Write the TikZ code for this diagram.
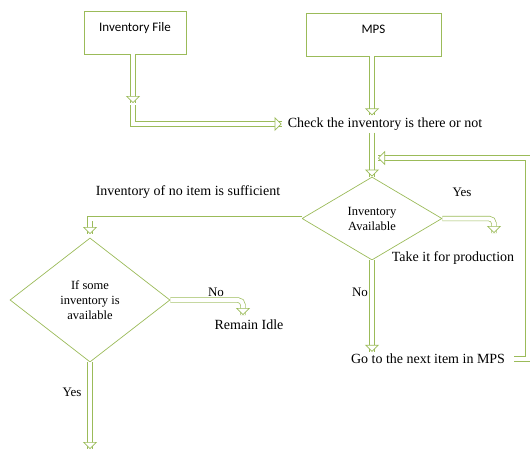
\documentclass[tikz,border=0pt]{standalone}
\usepackage{fontspec}
\setmainfont{Liberation Serif}
\newfontfamily\pBoxFont{Carlito}
\usetikzlibrary{arrows.meta,shapes.geometric,decorations.markings}
\definecolor{pFlowGreen}{RGB}{155,187,89}

\begin{document}
\begin{tikzpicture}[x=1pt,y=-1pt,
  flowbox/.style={draw=pFlowGreen, line width=0.7pt, minimum width=102pt, minimum height=43pt, text height=8.5pt, text depth=10.5pt, font={\pBoxFont\fontsize{13}{15}\selectfont}},
  flowdiamond/.style={draw=pFlowGreen, line width=0.7pt, shape=diamond, inner sep=0pt, align=center, font={\fontsize{12.5}{15}\selectfont}},
  flowtext/.style={inner sep=2pt, font={\fontsize{14}{16}\selectfont}},
  flowlabel/.style={inner sep=1pt, font={\fontsize{13}{15}\selectfont}},
  flowarrow/.style={draw=pFlowGreen, line width=0.7pt, double=white, double distance=4pt,
    postaction={decorate, decoration={markings, mark=at position 1 with {\arrow[pFlowGreen, line width=0.7pt]{Triangle[open, fill=white, width=14pt, length=7pt]}}}}},
  flowbend/.style={flowarrow, rounded corners=5pt}]
\useasboundingbox (0,0) rectangle (530,450);
\node[flowbox] (invfile) at (135,32.5) {Inventory File};
\node[flowbox, minimum width=135pt] (mps) at (373.5,34.5) {MPS};
\node[flowtext] (check) at (385,124) {Check the inventory is there or not};
\node[flowdiamond, minimum width=140pt, minimum height=83pt] (avail) at (372,218.5) {Inventory\\Available};
\node[flowdiamond, minimum width=160pt, minimum height=124pt] (suff) at (90,300) {If some\\inventory is\\available};
\node[flowtext] (noitem) at (188,192) {Inventory of no item is sufficient};
\node[flowlabel] (yesa) at (462,192) {Yes};
\node[flowtext] (take) at (453,258) {Take it for production};
\node[flowlabel] (noa) at (360,292) {No};
\node[flowtext] (next) at (428,359) {Go to the next item in MPS};
\node[flowlabel] (nob) at (216,292) {No};
\node[flowtext] (idle) at (249,325) {Remain Idle};
\node[flowlabel] (yesb) at (72,392) {Yes};
\coordinate (invend) at (133,103);
\coordinate (invstart) at (133,105);
\coordinate (takeend) at (494,233);
\coordinate (loopcorner) at (527.5,158);
\coordinate (loopend) at (378,158);
\coordinate (suffend) at (90,234);
\coordinate (idleend) at (243,315);
\coordinate (yesend) at (90,449);
\draw[flowarrow] (invfile.south -| invend) -- (invend);
\draw[flowarrow] (invstart) |- ([xshift=-4pt]check.west);
\draw[flowarrow] (mps.south -| avail.north) -- (check.north -| avail.north);
\draw[flowarrow] (check.south -| avail.north) -- (avail.north);
\draw[flowbend] (avail.east) -| (takeend);
\draw[flowarrow] (avail.south) -- (next.north -| avail.south);
\draw[flowarrow] ([xshift=7pt]next.east) -| (loopcorner) -- (loopend);
\draw[flowarrow] (avail.west) -| (suffend);
\draw[flowbend] (suff.east) -| (idleend);
\draw[flowarrow] (suff.south) -- (yesend);
\end{tikzpicture}
\end{document}
